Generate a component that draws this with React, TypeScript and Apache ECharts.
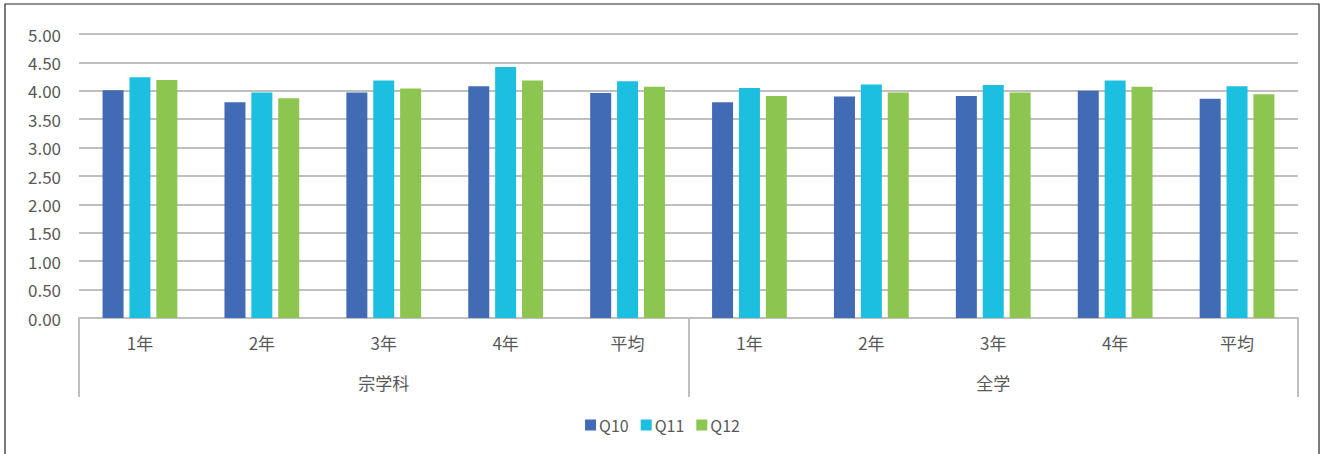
import React, { useEffect, useRef } from "react";
import * as echarts from "echarts";

const categories = ["1年", "2年", "3年", "4年", "平均", "1年", "2年", "3年", "4年", "平均"];
const groups = ["宗学科", "全学"];
const q10 = [4.01, 3.80, 3.97, 4.08, 3.96, 3.80, 3.90, 3.91, 4.00, 3.86];
const q11 = [4.24, 3.97, 4.18, 4.42, 4.17, 4.05, 4.11, 4.10, 4.18, 4.08];
const q12 = [4.19, 3.87, 4.04, 4.18, 4.07, 3.91, 3.97, 3.97, 4.07, 3.94];
const seriesNames = ["Q10", "Q11", "Q12"];
const colors = ["#416BB5", "#1CBFE0", "#8CC550"];

const FONT = "'Noto Sans CJK JP', 'Noto Sans', sans-serif";

export default function App() {
  const ref = useRef<HTMLDivElement>(null);
  useEffect(() => {
    if (!ref.current) return;
    const chart = echarts.init(ref.current, null, { renderer: "svg" });
    const data = [q10, q11, q12];
    chart.setOption({
      animation: false,
      backgroundColor: "#ffffff",
      textStyle: { fontFamily: FONT },
      graphic: [
        {
          type: "rect",
          shape: { x: 5, y: 4, width: 1314, height: 470 },
          style: { fill: "none", stroke: "#262626", lineWidth: 1.2 },
          silent: true,
        },
      ],
      legend: {
        data: seriesNames,
        top: 412,
        left: "center",
        icon: "rect",
        itemWidth: 11,
        itemHeight: 11,
        itemGap: 12,
        textStyle: { color: "#595959", fontSize: 16, fontFamily: FONT, padding: [0, 0, 0, -2] },
      },
      grid: { left: 79, right: 27, top: 34, bottom: 136, containLabel: false },
      xAxis: [
        {
          type: "category",
          data: categories,
          position: "bottom",
          axisLine: { lineStyle: { color: "#BFBFBF", width: 2 } },
          axisTick: { show: false },
          axisLabel: { color: "#595959", fontSize: 17, margin: 16, fontFamily: FONT },
        },
        {
          type: "category",
          data: groups,
          position: "bottom",
          axisLine: { show: false },
          axisTick: { show: true, length: 79, lineStyle: { color: "#BFBFBF", width: 2 } },
          axisLabel: { color: "#595959", fontSize: 17, margin: 56, fontFamily: FONT },
        },
      ],
      yAxis: {
        type: "value",
        min: 0,
        max: 5,
        interval: 0.5,
        axisLine: { show: false },
        axisTick: { show: false },
        axisLabel: {
          color: "#595959",
          fontSize: 17,
          margin: 18,
          fontFamily: FONT,
          formatter: (v: number) => v.toFixed(2),
        },
        splitLine: { lineStyle: { color: "#BFBFBF", width: 2 } },
      },
      series: seriesNames.map((name, i) => ({
        name,
        type: "bar",
        xAxisIndex: 0,
        data: data[i],
        barWidth: 21,
        barGap: "28%",
        itemStyle: { color: colors[i] },
      })),
    });
    return () => chart.dispose();
  }, []);
  return (
    <div
      ref={ref}
      style={{ position: "absolute", left: 0, top: 0, width: 1325, height: 454 }}
    />
  );
}
